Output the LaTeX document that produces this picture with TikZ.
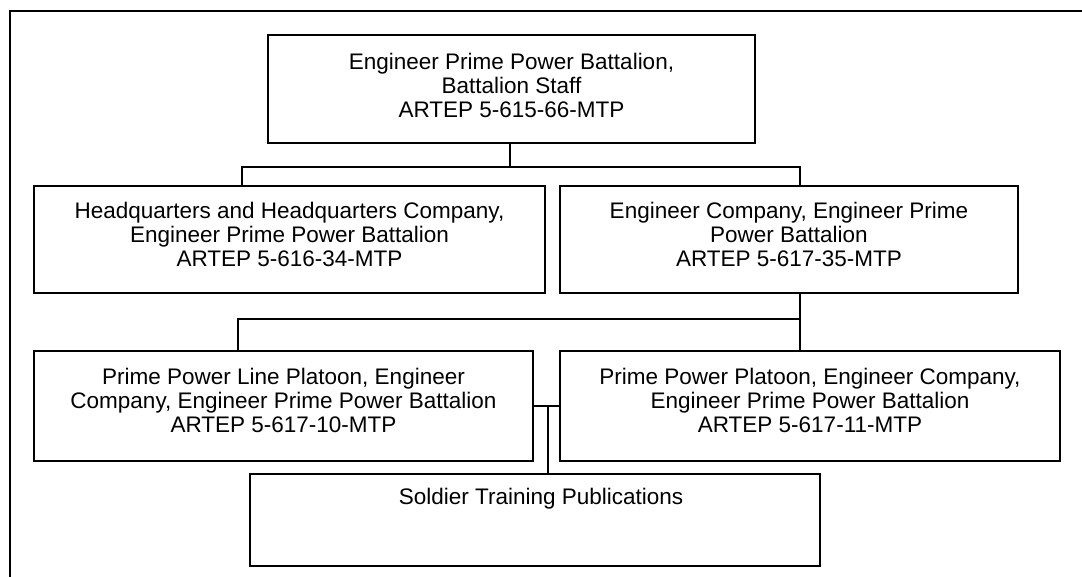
\documentclass[tikz,border=0pt]{standalone}
\usepackage{fontspec}
\setmainfont{Liberation Sans}
\usetikzlibrary{positioning}
\begin{document}
\begin{tikzpicture}[x=1pt,y=-1pt,
  box/.style={draw, line width=1.6pt, inner sep=0pt},
  txt/.style={align=center, inner sep=0pt, anchor=north, font=\fontsize{22.5}{24}\selectfont},
  conn/.style={line width=1.6pt}]
\useasboundingbox (0,0) rectangle (1082,577);
% frame
\draw[line width=2.4pt] (10,577) -- (10,11) -- (1082,11);
% boxes
\node[box, minimum width=487, minimum height=108] (top) at (511.5,89) {};
\node[box, minimum width=511, minimum height=107] (hq) at (289.5,239.5) {};
\node[box, minimum width=458, minimum height=107] (eng) at (789,239.5) {};
\node[box, minimum width=499, minimum height=110] (line) at (283.5,406) {};
\node[box, minimum width=500, minimum height=110] (plat) at (810,406) {};
\node[box, minimum width=570, minimum height=92] (stp) at (535,520) {};
% texts
\node[txt] (ttop) at ([yshift=-19]top.north) {Engineer Prime Power Battalion,\\Battalion Staff\\ARTEP 5-615-66-MTP};
\node[txt] (thq) at ([yshift=-17]hq.north) {Headquarters and Headquarters Company,\\Engineer Prime Power Battalion\\ARTEP 5-616-34-MTP};
\node[txt] (teng) at ([yshift=-17]eng.north) {Engineer Company, Engineer Prime\\Power Battalion\\ARTEP 5-617-35-MTP};
\node[txt] (tline) at ([yshift=-18]line.north) {Prime Power Line Platoon, Engineer\\Company, Engineer Prime Power Battalion\\ARTEP 5-617-10-MTP};
\node[txt] (tplat) at ([yshift=-18]plat.north) {Prime Power Platoon, Engineer Company,\\Engineer Prime Power Battalion\\ARTEP 5-617-11-MTP};
\node[txt] (tstp) at ([xshift=6,yshift=-15]stp.north) {Soldier Training Publications};
% connector coordinates
\coordinate (j1) at (510,167);
\coordinate (j2) at (800,319);
\coordinate (j3) at (548,406);
% connectors
\draw[conn] (top.south -| j1) -- (j1);
\draw[conn] (hq.north -| 242,0) -- (242,167) -- (800,167) -- (eng.north -| 800,0);
\draw[conn] (eng.south -| j2) -- (plat.north -| j2);
\draw[conn] (j2) -- (238,319) -- (line.north -| 238,0);
\draw[conn] (line.east) -- (plat.west);
\draw[conn] (j3) -- (stp.north -| j3);
\end{tikzpicture}
\end{document}
